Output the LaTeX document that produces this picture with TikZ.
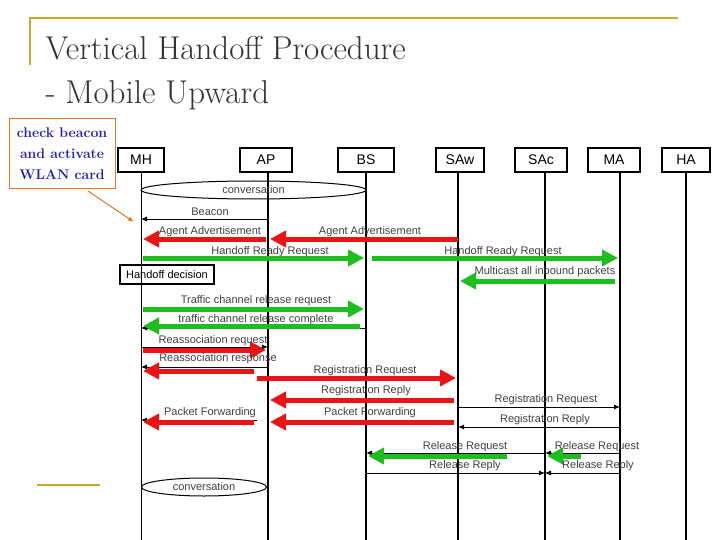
\documentclass[tikz,border=0pt]{standalone}
\usepackage{fontspec}
\setsansfont{Liberation Sans}
\usetikzlibrary{arrows.meta}
\definecolor{gold}{RGB}{204,170,40}
\definecolor{myred}{RGB}{235,20,20}
\definecolor{mygreen}{RGB}{30,190,30}
\definecolor{callblue}{RGB}{30,30,180}
\definecolor{callor}{RGB}{225,120,40}
\tikzset{
 ent/.style={draw,line width=1.3pt,minimum height=24pt,inner sep=1pt,font=\sffamily\fontsize{14}{14}\selectfont},
 life/.style={line width=1.2pt},
 thin/.style={line width=0.9pt,-{Latex[length=6pt,width=5pt]}},
 fatr/.style={line width=5pt,myred,-{Triangle[length=16pt,width=16pt]}},
 fatg/.style={line width=5pt,mygreen,-{Triangle[length=16pt,width=16pt]}},
 lbl/.style={font=\sffamily\fontsize{11}{11}\selectfont,text=black!75,inner sep=0pt},
 conv/.style={draw,line width=1pt,ellipse},
}
\usetikzlibrary{shapes.geometric}
\begin{document}
\begin{tikzpicture}[x=1pt,y=-1pt]
\useasboundingbox (0,0) rectangle (720,540);
% frame
\draw[gold,line width=1.5pt] (30,65) -- (30,18) -- (678,18);
\draw[gold,line width=1.5pt] (37,485) -- (100,485);
\node[anchor=west,font=\fontsize{33}{33}\selectfont,text=black!80] (t1) at (42,48) {Vertical Handoff Procedure};
\node[anchor=west,font=\fontsize{33}{33}\selectfont,text=black!80] (t2) at (42,95) {- Mobile Upward};
% entities
\node[ent,minimum width=46pt] (MH) at (141,160) {MH};
\node[ent,minimum width=52pt] (AP) at (266,160) {AP};
\node[ent,minimum width=56pt] (BS) at (366,160) {BS};
\node[ent,minimum width=48pt] (SAw) at (460,160) {SAw};
\node[ent,minimum width=52pt] (SAc) at (541,160) {SAc};
\node[ent,minimum width=52pt] (MA) at (614,160) {MA};
\node[ent,minimum width=48pt] (HA) at (686,160) {HA};
\foreach \n/\x in {MH/141,AP/268,BS/366,SAw/458,SAc/545,MA/620,HA/686}{
  \coordinate (\n b) at (\x,540);
}
\draw[line width=0.9pt] (MH.south) -- (MHb);
\draw[life] (268,172) -- (APb);
\draw[life] (366,172) -- (BSb);
\draw[life] (458,172) -- (SAwb);
\draw[life] (545,172) -- (SAcb);
\draw[life] (620,172) -- (MAb);
\draw[life] (686,172) -- (HAb);
% callout
\node[draw=callor,line width=1pt,align=center,font=\bfseries\fontsize{14}{21}\selectfont,text=callblue,minimum width=106pt,minimum height=70pt,inner sep=1pt] (call) at (62,154) {check beacon\\and activate\\WLAN card};
\coordinate (cend) at (134,222);
\draw[callor,line width=1pt,-{Latex[length=6pt]}] (88,191) -- (cend);
% conversation
\node[conv,minimum width=225pt,minimum height=18pt] (c1) at (253.5,190) {};
\node[lbl] (c1t) at (253.5,190) {conversation};
% messages
\draw[thin] (268,219) -- (141,219);
\node[lbl] at (210,212) {Beacon};
\draw[fatr] (266,239) -- (143,239);
\draw[fatr] (458,239) -- (270,239);
\node[lbl] at (210,232) {Agent Advertisement};
\node[lbl] at (370,232) {Agent Advertisement};
\draw[fatg] (143,258) -- (364,258);
\draw[fatg] (372,258) -- (618,258);
\node[lbl] at (270,252) {Handoff Ready Request};
\node[lbl] at (503,252) {Handoff Ready Request};
\node[draw,line width=1.2pt,lbl,text=black,minimum width=94pt,minimum height=19pt] (hd) at (167,274.5) {Handoff decision};
\draw[fatg] (615,281) -- (460,281);
\node[lbl] at (545,272) {Multicast all inbound packets};
\draw[fatg] (143,309) -- (364,309);
\node[lbl] at (256,301) {Traffic channel release request};
\draw[thin] (366,328) -- (141,328);
\draw[fatg] (360,326) -- (143,326);
\node[lbl] at (256,320) {traffic channel release complete};
\draw[thin] (141,347) -- (268,347);
\draw[fatr] (143,350) -- (266,350);
\node[lbl] at (213,341) {Reassociation request};
\draw[thin] (268,367) -- (141,367);
\draw[fatr] (254,371) -- (143,371);
\node[lbl] at (218,359) {Reassociation response};
\draw[fatr] (257,378) -- (456,378);
\node[lbl] at (365,371) {Registration Request};
\draw[fatr] (454,400) -- (270,400);
\node[lbl] at (366,391) {Registration Reply};
\draw[thin] (458,407) -- (620,407);
\node[lbl] at (546,400) {Registration Request};
\draw[thin] (257,420) -- (141,420);
\draw[fatr] (254,422) -- (143,422);
\node[lbl] at (210,413) {Packet Forwarding};
\draw[fatr] (454,422) -- (270,422);
\node[lbl] at (370,413) {Packet Forwarding};
\draw[thin] (620,427) -- (458,427);
\node[lbl] at (545,420) {Registration Reply};
\draw[thin] (545,453) -- (366,453);
\draw[fatg] (507,456) -- (368,456);
\node[lbl] at (465,447) {Release Request};
\draw[thin] (620,453) -- (545,453);
\draw[fatg] (581,456) -- (547,456);
\node[lbl] at (597,447) {Release Request};
\draw[thin] (366,473) -- (545,473);
\node[lbl] at (465,466) {Release Reply};
\draw[thin] (620,473) -- (545,473);
\node[lbl] at (598,466) {Release Reply};
\node[conv,minimum width=125pt,minimum height=18pt] (c2) at (204,487) {};
\node[lbl] at (204,487) {conversation};
\end{tikzpicture}
\end{document}
